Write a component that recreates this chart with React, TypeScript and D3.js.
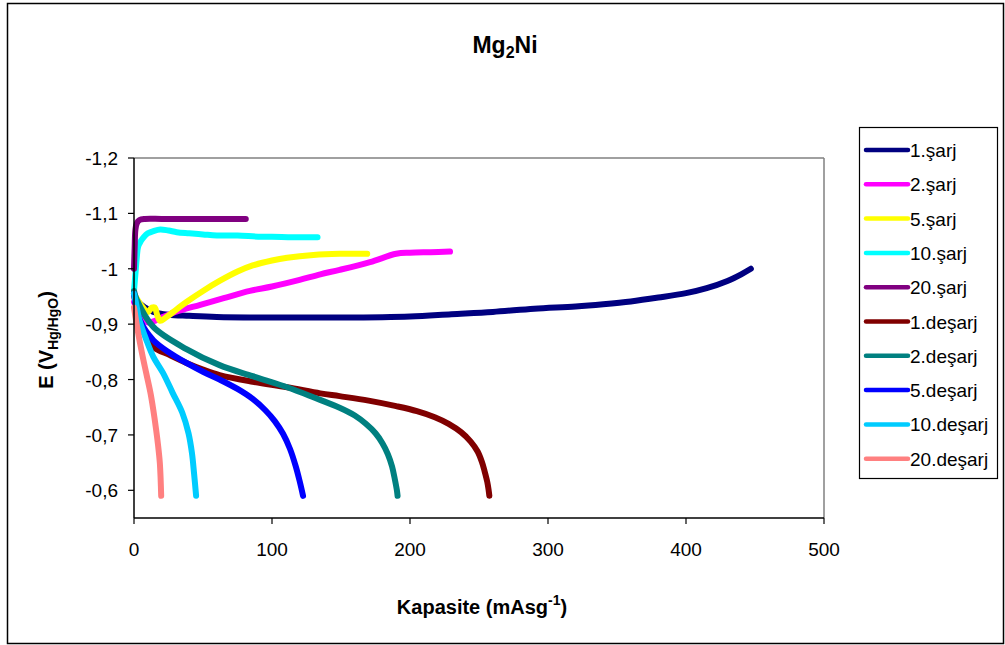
import React, { useEffect } from 'react';
import * as d3 from 'd3';

type Pt = [number, number];

const xTicks = [0, 100, 200, 300, 400, 500];
const yTicks = [-1.2, -1.1, -1, -0.9, -0.8, -0.7, -0.6];

const seriesNames = ['1.şarj', '2.şarj', '5.şarj', '10.şarj', '20.şarj', '1.deşarj', '2.deşarj', '5.deşarj', '10.deşarj', '20.deşarj'];
const seriesColors = ['#000080', '#FF00FF', '#FFFF00', '#00FFFF', '#800080', '#800000', '#008080', '#0000FF', '#00CCFF', '#FF8080'];

const sarj1: Pt[] = [[0, -0.955], [3, -0.94], [8, -0.93], [14, -0.922], [25, -0.917], [40, -0.915], [60, -0.913], [100, -0.912], [150, -0.912], [200, -0.914], [230, -0.918], [260, -0.922], [290, -0.928], [320, -0.932], [340, -0.936], [360, -0.941], [380, -0.948], [400, -0.956], [415, -0.965], [430, -0.978], [440, -0.99], [447, -1.0]];
const sarj2: Pt[] = [[0, -0.94], [5, -0.915], [10, -0.903], [14, -0.905], [20, -0.912], [30, -0.922], [48, -0.935], [65, -0.947], [84, -0.96], [100, -0.968], [120, -0.98], [135, -0.99], [149, -0.998], [171, -1.012], [190, -1.027], [200, -1.029], [215, -1.03], [229, -1.031]];
const sarj5: Pt[] = [[0, -0.955], [5, -0.935], [10, -0.922], [13, -0.93], [15, -0.93], [17, -0.915], [19, -0.906], [23, -0.912], [30, -0.925], [38, -0.94], [50, -0.96], [62, -0.978], [75, -0.995], [86, -1.006], [100, -1.015], [111, -1.02], [130, -1.025], [149, -1.027], [169, -1.027]];
const sarj10: Pt[] = [[0, -0.96], [1, -0.99], [2, -1.02], [3, -1.04], [5, -1.05], [7, -1.057], [10, -1.064], [14, -1.068], [19, -1.071], [25, -1.069], [31, -1.066], [40, -1.064], [50, -1.062], [60, -1.06], [75, -1.06], [90, -1.058], [100, -1.058], [115, -1.057], [133, -1.057]];
const sarj20: Pt[] = [[0, -1.0], [0.5, -1.04], [1, -1.07], [2, -1.082], [4, -1.088], [8, -1.09], [20, -1.09], [40, -1.09], [60, -1.09], [81, -1.09]];
const desarj1: Pt[] = [[0, -0.955], [2, -0.925], [4, -0.9], [9, -0.877], [14, -0.859], [26, -0.844], [38, -0.83], [50, -0.818], [62, -0.808], [86, -0.796], [111, -0.786], [135, -0.775], [149, -0.77], [170, -0.762], [190, -0.752], [205, -0.743], [218, -0.732], [228, -0.72], [237, -0.705], [244, -0.688], [249, -0.67], [252, -0.652], [254, -0.635], [256, -0.615], [257, -0.6], [257.5, -0.59]];
const desarj2: Pt[] = [[0, -0.96], [2, -0.944], [14, -0.895], [38, -0.855], [62, -0.826], [86, -0.806], [111, -0.786], [130, -0.768], [149, -0.749], [160, -0.735], [168, -0.72], [175, -0.703], [180, -0.685], [184, -0.665], [187, -0.643], [189, -0.62], [190.5, -0.6], [191, -0.59]];
const desarj5: Pt[] = [[0, -0.955], [4.3, -0.907], [14, -0.871], [26, -0.848], [38, -0.83], [50, -0.814], [62, -0.8], [75, -0.783], [86, -0.765], [95, -0.745], [102, -0.725], [108, -0.702], [113, -0.675], [117, -0.645], [120, -0.617], [122.5, -0.59]];
const desarj10: Pt[] = [[0, -0.955], [1, -0.944], [4, -0.907], [9, -0.871], [14, -0.841], [21, -0.812], [28, -0.776], [35, -0.74], [39.5, -0.703], [42, -0.667], [43.5, -0.631], [45, -0.59]];
const desarj20: Pt[] = [[0, -0.93], [3, -0.884], [6, -0.845], [9, -0.81], [12, -0.775], [14, -0.745], [16, -0.71], [17.5, -0.68], [18.7, -0.65], [19.3, -0.62], [19.7, -0.59]];

const seriesData: Pt[][] = [sarj1, sarj2, sarj5, sarj10, sarj20, desarj1, desarj2, desarj5, desarj10, desarj20];

const FONT = "'Liberation Sans', Arial, sans-serif";

export default function App() {
  useEffect(() => {
    document.body.style.margin = '0';
  }, []);

  const x = d3.scaleLinear().domain([0, 500]).range([134, 824]);
  const y = d3.scaleLinear().domain([-1.2, -0.55]).range([158, 518]);
  const line = d3
    .line<Pt>()
    .x((d) => x(d[0]))
    .y((d) => y(d[1]))
    .curve(d3.curveCatmullRom.alpha(0.5));

  const fmt = (v: number) => String(v).replace('.', ',');
  const [x0, x1] = x.range();
  const [yTop, yBot] = y.range();

  const legX = 859;
  const legY = 127;
  const legStep = 34.3;

  return (
    <svg width={1005} height={645} style={{ display: 'block' }} fontFamily={FONT}>
      <rect x={0} y={0} width={1005} height={645} fill="#fff" />
      <rect x={7.5} y={3.5} width={996} height={640} fill="none" stroke="#000" strokeWidth={1.5} />

      {/* title */}
      <text x={505} y={53} textAnchor="middle" fontSize={23} fontWeight="bold">
        Mg<tspan fontSize={16} dy={5}>2</tspan>
        <tspan dy={-5}>Ni</tspan>
      </text>

      {/* plot area frame */}
      <line x1={x0} x2={x1} y1={yTop} y2={yTop} stroke="#808080" strokeWidth={1.5} />
      <line x1={x1} x2={x1} y1={yTop} y2={yBot} stroke="#808080" strokeWidth={1.5} />

      {/* series */}
      {seriesData.map((d, i) => (
        <path
          key={seriesNames[i]}
          d={line(d) || ''}
          fill="none"
          stroke={seriesColors[i]}
          strokeWidth={6}
          strokeLinecap="round"
          strokeLinejoin="round"
        />
      ))}

      {/* axes */}
      <line x1={x0} x2={x0} y1={yTop} y2={yBot} stroke="#000" strokeWidth={1.5} />
      <line x1={x0} x2={x1} y1={yBot} y2={yBot} stroke="#000" strokeWidth={1.5} />
      {yTicks.map((t) => (
        <g key={'y' + t}>
          <line x1={x0 - 6} x2={x0} y1={y(t)} y2={y(t)} stroke="#000" strokeWidth={1.2} />
          <text x={118} y={y(t) + 7} textAnchor="end" fontSize={19}>
            {fmt(t)}
          </text>
        </g>
      ))}
      {xTicks.map((t) => (
        <g key={'x' + t}>
          <line x1={x(t)} x2={x(t)} y1={yBot} y2={yBot + 6} stroke="#000" strokeWidth={1.2} />
          <text x={x(t)} y={556} textAnchor="middle" fontSize={19}>
            {t}
          </text>
        </g>
      ))}

      {/* axis titles */}
      <text x={482} y={614} textAnchor="middle" fontSize={20} fontWeight="bold">
        Kapasite (mAsg<tspan fontSize={14} dy={-9}>-1</tspan>
        <tspan dy={9}>)</tspan>
      </text>
      <text transform="translate(53,340) rotate(-90)" textAnchor="middle" fontSize={20} fontWeight="bold">
        E (V<tspan fontSize={14} dy={5}>Hg/HgO</tspan>
        <tspan dy={-5}>)</tspan>
      </text>

      {/* legend */}
      <rect x={legX + 0.5} y={legY + 0.5} width={138} height={351} fill="#fff" stroke="#000" strokeWidth={1.2} />
      {seriesNames.map((n, i) => {
        const cy = legY + 23 + i * legStep;
        return (
          <g key={'leg' + n}>
            <line x1={866} x2={908} y1={cy} y2={cy} stroke={seriesColors[i]} strokeWidth={4.5} strokeLinecap="round" />
            <text x={910} y={cy + 7} fontSize={19}>
              {n}
            </text>
          </g>
        );
      })}
    </svg>
  );
}
